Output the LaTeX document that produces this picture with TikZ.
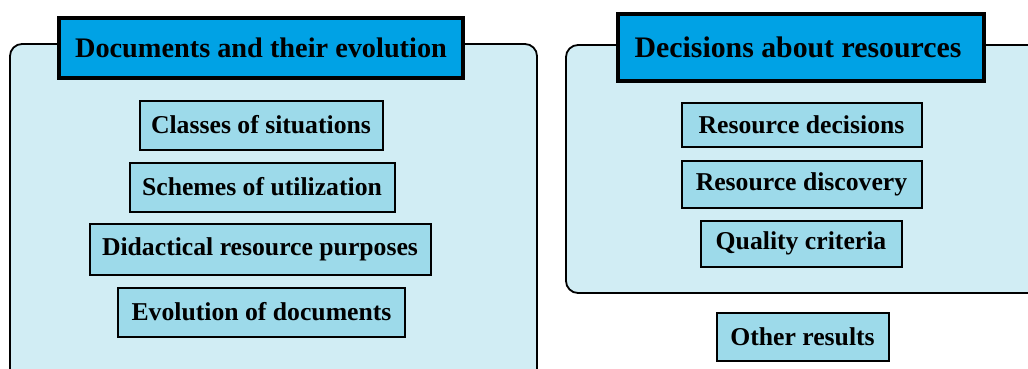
\documentclass[tikz,border=0pt]{standalone}
\usepackage{fontspec}
\setmainfont{Liberation Serif}
\definecolor{panelfill}{HTML}{D1EDF4}
\definecolor{titlefill}{HTML}{00A2E5}
\definecolor{itemfill}{HTML}{9DDAEA}
\begin{document}
\begin{tikzpicture}[x=1pt,y=-1pt,
  panel/.style={draw=black, line width=1.8pt, fill=panelfill, rounded corners=12pt},
  heading/.style={draw=black, line width=3.2pt, fill=titlefill, inner sep=0pt,
    font=\fontsize{28.3}{32}\selectfont\bfseries},
  item/.style={draw=black, line width=2pt, fill=itemfill, inner sep=0pt,
    font=\fontsize{25.7}{30}\selectfont\bfseries}]
\useasboundingbox (0,0) rectangle (1028,368);
\clip (0,0) rectangle (1028,368);

% left group: documents
\draw[panel] (10,44) rectangle (537,410);
\node[heading, minimum width=404, minimum height=60] (docs) at (261,48) {Documents and their evolution};
\node[item, minimum width=243, minimum height=49] (cls) at (261,125) {Classes of situations};
\node[item, minimum width=265, minimum height=49] (sch) at (262,187) {Schemes of utilization};
\node[item, minimum width=341, minimum height=51] (did) at (260,249.5) {Didactical resource purposes};
\node[item, minimum width=287, minimum height=49] (evo) at (261.5,312) {Evolution of documents};

% right group: decisions
\draw[panel] (566,45) rectangle (1070,293);
\node[heading, minimum width=366, minimum height=67, font=\fontsize{29.8}{34}\selectfont\bfseries]
  (dec) at (801,47.5) {Decisions about resources\hspace*{6pt}};
\node[item, minimum width=240, minimum height=44] (rdec) at (801.5,124.5) {Resource decisions};
\node[item, minimum width=240, minimum height=47] (rdis) at (801.5,184) {Resource discovery};
\node[item, minimum width=201, minimum height=46] (qual) at (801,243.5) {Quality criteria};

% separate box
\node[item, minimum width=172, minimum height=48] (oth) at (802.5,336.5) {Other results};
\end{tikzpicture}
\end{document}
